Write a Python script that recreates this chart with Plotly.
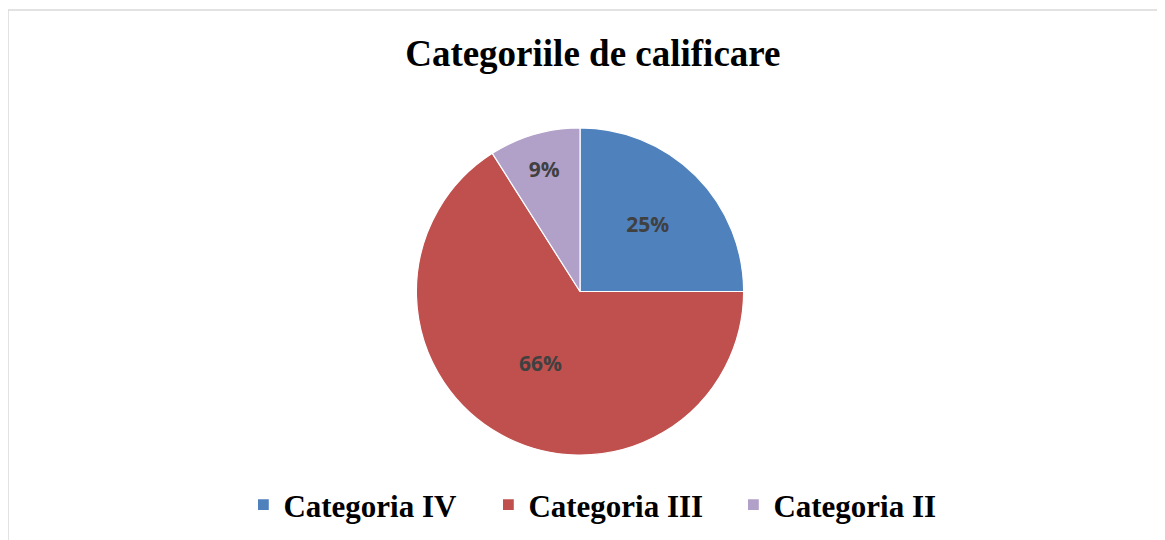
import plotly.graph_objects as go

categories = ["Categoria IV", "Categoria III", "Categoria II"]
values = [25, 66, 9]
colors = ["#4F81BD", "#C0504D", "#B1A0C7"]
title_text = "Categoriile de calificare"

W, H = 1165, 540

fig = go.Figure(
    go.Pie(
        labels=categories,
        values=values,
        sort=False,
        direction="clockwise",
        rotation=0,
        marker=dict(colors=colors, line=dict(color="white", width=1.2)),
        texttemplate="%{percent:.0%}",
        textposition="inside",
        insidetextorientation="horizontal",
        textfont=dict(family="Open Sans, Liberation Sans, sans-serif", size=21, color="#404040", weight="bold"),
        domain=dict(x=[0.291, 0.691], y=[0.172, 0.778]),
        hoverinfo="label+percent",
    )
)

fig.update_layout(
    width=W,
    height=H,
    margin=dict(l=0, r=0, t=0, b=0),
    paper_bgcolor="white",
    plot_bgcolor="white",
    title=dict(
        text=title_text,
        font=dict(family="Liberation Serif, Times New Roman, serif", size=37, color="black", weight="bold"),
        x=0.502,
        xanchor="center",
        y=1 - 45 / H,
        yanchor="middle",
        yref="container",
    ),
    legend=dict(
        orientation="h",
        x=0.5175,
        xanchor="center",
        y=1 - 497 / H,
        yanchor="middle",
        font=dict(family="Liberation Serif, Times New Roman, serif", size=31, color="black", weight="bold"),
        traceorder="normal",
        entrywidthmode="pixels",
        entrywidth=200,
    ),
    shapes=[
        dict(
            type="rect",
            xref="paper",
            yref="paper",
            x0=0.0,
            x1=1.02,
            y0=-0.02,
            y1=1 - 2 / H,
            line=dict(color="#D9D9D9", width=1.5),
            fillcolor="rgba(0,0,0,0)",
            layer="below",
        )
    ],
)

fig.write_html("out.html")
